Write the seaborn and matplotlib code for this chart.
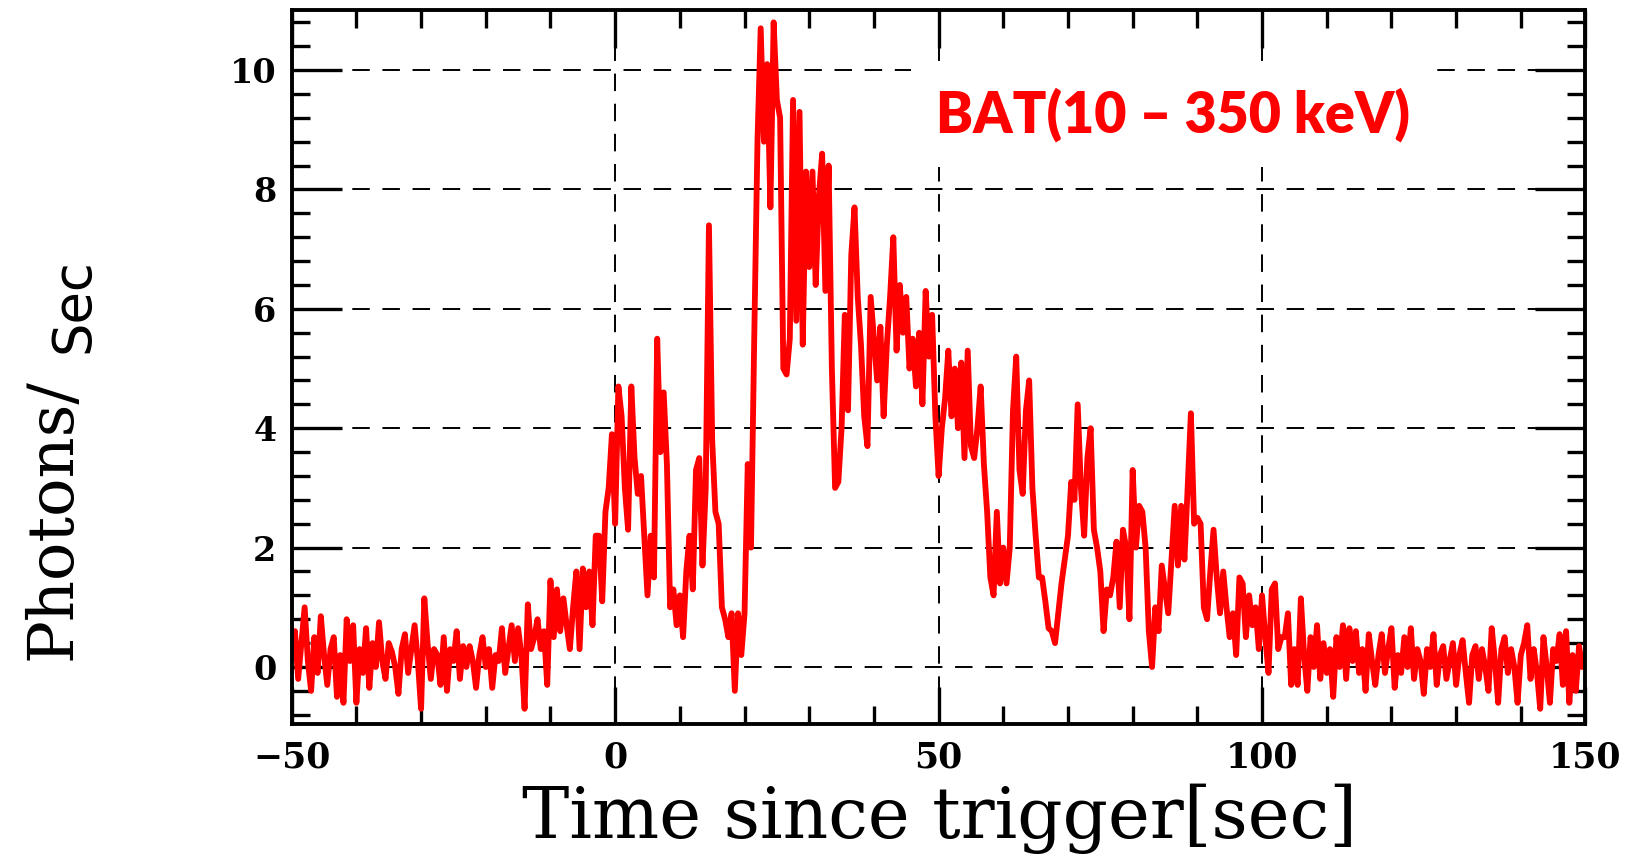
import numpy as np
import pandas as pd
import matplotlib
matplotlib.use("Agg")
import matplotlib.pyplot as plt
import seaborn as sns
from matplotlib.ticker import MultipleLocator

# ---------------- data (rate in photons/sec, 0.5 s bins) ----------------
BIN = 0.5

pre_burst_start = -50.0
pre_burst = [0.3, 0.6, -0.2, 0.4, 1.0, 0.1, -0.4, 0.5, -0.1, 0.85,
             0.2, -0.3, 0.3, 0.5, -0.5, 0.2, -0.6, 0.8, 0.1, 0.7,
             -0.6, 0.3, -0.1, 0.65, -0.35, 0.4, 0.0, 0.75, 0.1, -0.2,
             0.4, 0.25, 0.0, -0.45, 0.3, 0.55, -0.1, 0.3, 0.7, 0.1,
             -0.7, 1.15, 0.4, -0.2, 0.3, 0.2, -0.3, 0.5, -0.4, 0.3,
             0.1, 0.6, -0.2, 0.35, 0.0, 0.35, 0.1, -0.35, 0.2, 0.5,
             0.0, 0.3, -0.35, 0.2, 0.1, 0.65, -0.1, 0.3, 0.7, 0.1,
             0.65, 0.2, -0.7, 1.05, 0.3, 0.5, 0.8, 0.3, 0.6, -0.3]

precursor_start = -10.0
precursor = [1.45, 0.5, 1.3, 0.6, 1.15, 0.7, 0.3, 1.0, 1.6, 0.3,
             1.65, 1.0, 1.6, 0.7, 2.2, 2.2, 1.1, 2.6, 3.0, 3.9,
             2.4, 4.7, 4.2, 3.0, 2.3, 4.7, 3.5, 2.9, 3.2, 2.2,
             1.2, 2.2, 1.5, 5.5, 3.6, 4.6, 3.4, 1.0, 1.3, 0.7,
             1.2, 0.5, 1.6, 2.2, 1.3, 3.3, 3.5, 1.7, 3.0, 7.4,
             3.8, 2.6, 2.4, 1.0, 0.8, 0.5, 0.9, -0.4, 0.9, 0.2]

main_pulse_start = 20.0
main_pulse = [0.9, 3.4, 2.0, 5.5, 8.8, 10.7, 8.8, 10.1, 7.7, 10.8,
              9.5, 9.2, 5.0, 4.9, 5.5, 9.5, 5.8, 9.3, 5.4, 8.3,
              6.7, 8.3, 6.4, 7.9, 8.6, 6.3, 8.4, 5.0, 3.0, 3.1,
              4.0, 5.9, 4.3, 6.9, 7.7, 6.2, 5.4, 4.2, 3.7, 6.2,
              5.5, 4.8, 5.7, 4.2, 5.4, 6.2, 7.2, 5.3, 6.4, 5.6,
              6.2, 5.0, 5.5, 4.7, 5.6, 4.4, 6.3, 5.2, 5.9, 4.2,
              3.2, 4.0, 4.5, 5.3, 4.2, 5.0, 4.0, 5.1, 3.5, 5.3,
              3.7, 3.5, 4.0, 4.7, 3.4, 2.6, 1.5, 1.2, 2.6, 1.4]

late_pulses_start = 60.0
late_pulses = [2.0, 1.4, 2.0, 4.3, 5.2, 3.3, 2.9, 4.3, 4.8, 3.0,
               2.2, 1.5, 1.5, 1.1, 0.65, 0.6, 0.4, 0.9, 1.4, 1.8,
               2.2, 3.1, 2.8, 4.4, 3.0, 2.2, 3.5, 4.0, 2.3, 2.0,
               1.6, 0.6, 1.3, 1.2, 1.5, 2.1, 1.0, 2.3, 2.0, 0.8,
               3.3, 2.0, 2.7, 2.6, 2.0, 0.6, 0.0, 1.0, 0.6, 1.7,
               1.3, 0.9, 1.8, 2.7, 1.7, 2.7, 1.8, 3.0, 4.25, 2.4,
               2.5, 2.4, 1.0, 0.8, 1.6, 2.3, 1.5, 0.9, 1.6, 1.0,
               0.5, 0.9, 0.2, 1.5, 1.4, 0.5, 1.2, 0.7, 1.0, 0.3,
               1.2, 0.5, -0.1, 1.3, 1.4, 0.3, 0.5, 0.5, 0.9, -0.3]

post_burst_start = 105.0
post_burst = [0.3, -0.3, 1.15, 0.2, -0.4, 0.5, 0.0, 0.7, -0.2, 0.4,
              -0.1, 0.3, -0.5, 0.5, 0.0, 0.7, -0.2, 0.65, 0.1, 0.6,
              -0.1, 0.3, -0.4, 0.55, 0.1, -0.3, 0.2, 0.55, -0.1, 0.3,
              0.65, -0.35, 0.2, -0.1, 0.5, 0.0, 0.65, -0.2, 0.3, 0.1,
              -0.45, 0.3, 0.0, 0.55, -0.3, 0.2, 0.35, -0.2, 0.1, 0.4,
              -0.3, 0.2, 0.45, -0.1, -0.6, 0.2, 0.35, -0.2, 0.3, 0.0,
              -0.4, 0.65, 0.1, -0.6, 0.3, 0.5, -0.1, 0.3, 0.0, -0.6,
              0.2, 0.4, 0.7, -0.2, 0.3, -0.1, -0.7, 0.5, 0.0, -0.6,
              0.3, 0.1, 0.55, -0.3, 0.6, -0.6, 0.2, -0.4, 0.35, 0.0,
              0.2]

x_ticks = [-50, 0, 50, 100, 150]
y_ticks = [0, 2, 4, 6, 8, 10]
x_label = "Time since trigger[sec]"
y_label_a = "Photons/"
y_label_b = "Sec"
band_label = "BAT(10 – 350 keV)"

# ---------------- build table ----------------
parts = [(pre_burst_start, pre_burst), (precursor_start, precursor),
         (main_pulse_start, main_pulse), (late_pulses_start, late_pulses),
         (post_burst_start, post_burst)]
times, rates = [], []
for start, vals in parts:
    times.extend(start + BIN * np.arange(len(vals)))
    rates.extend(vals)
df = pd.DataFrame({"time": times, "rate": rates})

# ---------------- plot ----------------
sns.set_style("white")
W, H = 1628, 858
fig = plt.figure(figsize=(W / 100, H / 100), dpi=100)
ax = fig.add_axes([291.7 / W, 1 - 723.7 / H, (1585.5 - 291.7) / W, (723.7 - 10.4) / H])

ax.set_axisbelow("line")
ax.grid(True, which="major", color="black", linestyle=(0, (9, 6.5)), linewidth=1.4)

sns.lineplot(data=df, x="time", y="rate", color="#ff0000", linewidth=4.2,
             estimator=None, ax=ax, zorder=3)

ax.set_xlim(-50, 150)
ax.set_ylim(-0.95, 11.0)
ax.set_xticks(x_ticks)
ax.set_yticks(y_ticks)
ax.xaxis.set_minor_locator(MultipleLocator(10))
ax.yaxis.set_minor_locator(MultipleLocator(0.4))

for s in ax.spines.values():
    s.set_linewidth(2.8)
    s.set_color("black")
    s.set_zorder(5)

ax.tick_params(axis="both", which="both", direction="in",
               bottom=True, left=True, top=True, right=True,
               color="black", width=2.4, labelcolor="black")
ax.tick_params(axis="x", which="major", length=27, pad=12)
ax.tick_params(axis="x", which="minor", length=13)
ax.tick_params(axis="y", which="major", length=36, pad=11)
ax.tick_params(axis="y", which="minor", length=13)
for t in ax.xaxis.get_major_ticks() + ax.yaxis.get_major_ticks():
    t.tick1line.set_zorder(4)
    t.tick2line.set_zorder(4)

for lab in ax.get_xticklabels():
    lab.set_fontfamily("DejaVu Serif")
    lab.set_fontweight("bold")
    lab.set_fontsize(25)
for lab in ax.get_yticklabels():
    lab.set_fontfamily("DejaVu Serif")
    lab.set_fontweight("bold")
    lab.set_fontsize(24)

ax.set_xlabel("")
ax.set_ylabel("")

fig.text(0.5768, 1 - 838 / H, x_label, ha="center", va="baseline",
         family="DejaVu Serif", fontsize=51, color="black")
fig.text(70 / W, 1 - 660 / H, y_label_a, ha="left", va="baseline",
         rotation=90, rotation_mode="anchor",
         family="DejaVu Serif", fontsize=46, color="black")
fig.text(88 / W, 1 - 353 / H, y_label_b, ha="left", va="baseline",
         rotation=90, rotation_mode="anchor",
         family="DejaVu Sans", fontsize=38, color="black")

ax.text(49.6, 8.96, band_label, ha="left", va="baseline", color="#ff0000",
        family="Lato", fontweight="heavy", fontsize=40, zorder=4,
        bbox=dict(boxstyle="square,pad=0.45", facecolor="white", edgecolor="none"))

fig.savefig("out.png", dpi=100)
